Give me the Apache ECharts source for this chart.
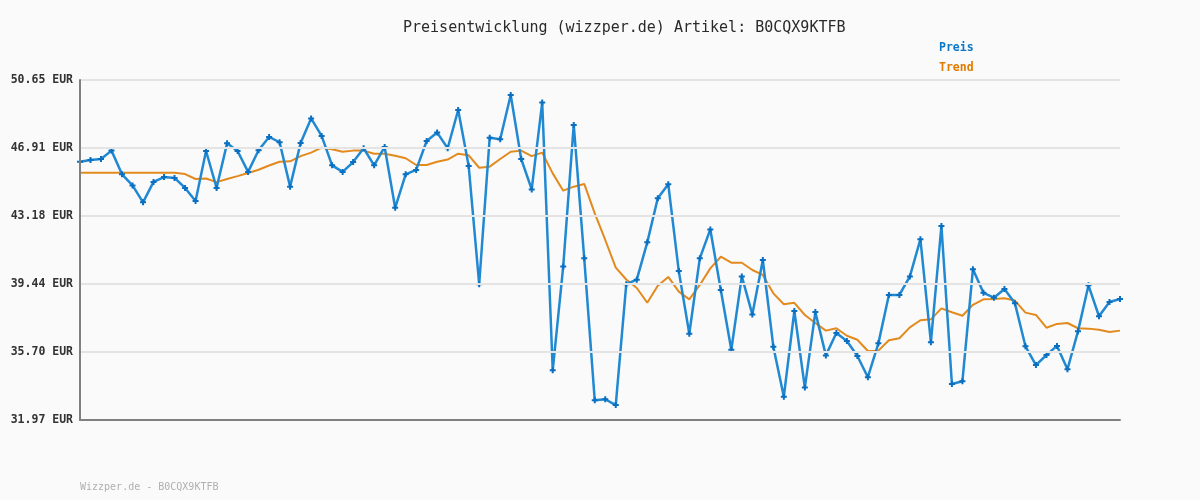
<!DOCTYPE html>
<html>
<head>
<meta charset="utf-8">
<title>Preisentwicklung B0CQX9KTFB</title>
<script src="https://cdn.jsdelivr.net/npm/echarts@6/dist/echarts.min.js"></script>
<style>
  html, body { margin: 0; padding: 0; background: #fafafa; }
  #myEcharts { width: 1200px; height: 500px; }
</style>
</head>
<body>
<div id="myEcharts"></div>
<script>
// Preis je Messpunkt (EUR)
const preis = [
  46.16, 46.25, 46.31, 46.77, 45.47, 44.86, 43.93, 45.05, 45.32, 45.27,
  44.72, 44.00, 46.75, 44.72, 47.17, 46.75, 45.60, 46.79, 47.52, 47.23,
  44.79, 47.19, 48.54, 47.58, 45.96, 45.60, 46.14, 46.90, 45.96, 46.97,
  43.63, 45.47, 45.71, 47.30, 47.76, 46.90, 49.00, 45.92, 39.43, 47.48,
  47.39, 49.83, 46.31, 44.64, 49.42, 34.70, 40.41, 48.18, 40.85, 33.05,
  33.11, 32.79, 39.43, 39.68, 41.73, 44.15, 44.92, 40.15, 36.71, 40.85,
  42.44, 39.11, 35.83, 39.86, 37.77, 40.76, 36.00, 33.25, 37.96, 33.75,
  37.90, 35.52, 36.75, 36.31, 35.49, 34.32, 36.18, 38.84, 38.84, 39.86,
  41.90, 36.24, 42.63, 33.95, 34.10, 40.25, 38.96, 38.69, 39.17, 38.38,
  36.02, 34.99, 35.54, 36.04, 34.76, 36.84, 39.37, 37.67, 38.45, 38.62
]

// gleitender Trend
const trend = [
  45.56, 45.56, 45.56, 45.56, 45.56, 45.56, 45.56, 45.56, 45.56, 45.56,
  45.48, 45.21, 45.24, 45.04, 45.21, 45.37, 45.54, 45.72, 45.95, 46.16,
  46.18, 46.47, 46.66, 46.93, 46.84, 46.71, 46.77, 46.77, 46.60, 46.60,
  46.49, 46.35, 45.98, 45.98, 46.16, 46.28, 46.60, 46.51, 45.83, 45.89,
  46.31, 46.71, 46.77, 46.47, 46.66, 45.52, 44.57, 44.79, 44.94, 43.32,
  41.86, 40.34, 39.69, 39.22, 38.41, 39.35, 39.83, 39.02, 38.60, 39.39,
  40.30, 40.94, 40.61, 40.61, 40.21, 39.94, 38.93, 38.33, 38.41, 37.74,
  37.30, 36.88, 37.01, 36.60, 36.38, 35.76, 35.78, 36.35, 36.46, 37.06,
  37.45, 37.50, 38.10, 37.89, 37.70, 38.30, 38.60, 38.62, 38.66, 38.53,
  37.87, 37.74, 37.04, 37.25, 37.30, 37.01, 36.99, 36.93, 36.80, 36.88
]

// Achsenbeschriftung links
const yTicks = [31.97, 35.70, 39.44, 43.18, 46.91, 50.65]

// x-Achse ohne Beschriftung, nur laufende Nummer
const punkte = preis.map((v, i) => String(i + 1))

const mono = 'DejaVu Sans Mono'
const plus = 'path://M2,0H4V2H6V4H4V6H2V4H0V2H2Z'

const myChart = echarts.init(document.getElementById('myEcharts'))
myChart.setOption({
  animation: false,
  backgroundColor: '#fafafa',
  title: [
    {
      text: 'Preisentwicklung (wizzper.de) Artikel: B0CQX9KTFB',
      left: 398,
      top: 16,
      textStyle: { fontFamily: mono, fontSize: 15, fontWeight: 'normal', color: '#2a2a2a' }
    },
    {
      text: 'Wizzper.de - B0CQX9KTFB',
      left: 75,
      top: 477,
      textStyle: { fontFamily: mono, fontSize: 10, fontWeight: 'normal', color: '#b0b0b0' }
    }
  ],
  legend: {
    orient: 'vertical',
    left: 929,
    top: 36,
    icon: 'none',
    itemWidth: 0,
    itemGap: 7,
    selectedMode: false,
    textStyle: { fontFamily: mono, fontSize: 11.5, fontWeight: 'bold' },
    data: [
      { name: 'Preis', textStyle: { color: '#0a78c8' } },
      { name: 'Trend', textStyle: { color: '#e07b00' } }
    ]
  },
  grid: { left: 80, right: 80, top: 80, bottom: 80 },
  xAxis: {
    type: 'category',
    z: 6,
    boundaryGap: false,
    data: punkte,
    axisLabel: { show: false },
    axisTick: { show: false },
    axisLine: { lineStyle: { color: '#808080', width: 2 } }
  },
  yAxis: {
    type: 'value',
    z: 6,
    min: yTicks[0],
    max: yTicks[yTicks.length - 1],
    axisLabel: { show: false },
    axisTick: { show: false },
    splitLine: { show: false },
    axisLine: { show: true, lineStyle: { color: '#808080', width: 2 } }
  },
  series: [
    {
      // nur Gitterlinien + Beschriftung
      name: 'raster',
      type: 'line',
      z: 1,
      data: [],
      markLine: {
        silent: true,
        symbol: 'none',
        animation: false,
        lineStyle: { color: '#e4e4e4', width: 2, type: 'solid' },
        label: {
          show: true,
          position: 'start',
          distance: 7,
          formatter: p => p.value.toFixed(2) + ' EUR',
          fontFamily: mono,
          fontSize: 11.5,
          fontWeight: 'bold',
          color: '#333'
        },
        data: yTicks.map(v => ({ yAxis: v }))
      }
    },
    {
      name: 'Trend',
      type: 'line',
      z: 3,
      data: trend,
      showSymbol: false,
      lineStyle: { color: '#e38a1e', width: 2 },
      itemStyle: { color: '#e38a1e' }
    },
    {
      name: 'Preis',
      type: 'line',
      z: 4,
      data: preis,
      symbol: plus,
      symbolSize: 6,
      showAllSymbol: true,
      lineStyle: { color: '#2189d2', width: 2.5 },
      itemStyle: { color: '#0a6fc0' }
    }
  ]
})
window.addEventListener('resize', () => {
  myChart.resize()
})
</script>
</body>
</html>
